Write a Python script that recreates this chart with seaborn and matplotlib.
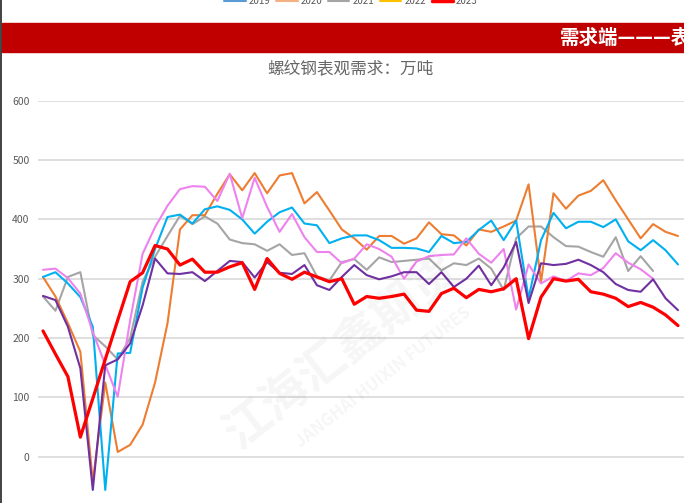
import numpy as np
import pandas as pd
import seaborn as sns
import matplotlib.pyplot as plt
from matplotlib.lines import Line2D

nan = np.nan
weeks = list(range(1, 53))

s_cyan = [303, 311, 292, 269, 219, -56, 174, 175, 285, 350, 404, 408, 393, 417, 422, 416, 400, 376, 396, 412,
          420, 393, 390, 360, 368, 373, 373, 365, 352, 352, 351, 345, 372, 360, 362, 382, 398, 365, 398, 267,
          365, 411, 385, 396, 396, 387, 400, 363, 348, 365, 348, 324]
s_orange = [303, 270, 225, 177, -42, 125, 8, 20, 54, 125, 225, 383, 407, 407, 443, 476, 449, 478, 444, 474,
            478, 427, 446, 415, 383, 368, 349, 372, 372, 359, 368, 395, 375, 373, 356, 383, 379, 388, 398, 459,
            295, 444, 418, 440, 448, 466, 432, 400, 368, 392, 379, 372]
s_gray = [270, 246, 303, 311, 205, 186, 164, 200, 295, 337, 372, 406, 392, 405, 393, 366, 360, 358, 347, 358,
          340, 343, 304, 297, 328, 333, 315, 336, 328, 330, 332, 334, 314, 326, 323, 334, 317, 281, 368, 388,
          388, 370, 355, 354, 345, 337, 370, 313, 338, 313, nan, nan]
s_purple = [271, 264, 219, 149, -56, 154, 164, 191, 255, 334, 309, 308, 311, 296, 313, 330, 328, 302, 328, 310,
            308, 323, 289, 281, 303, 323, 306, 299, 304, 311, 311, 291, 311, 286, 300, 322, 289, 319, 362, 259,
            326, 323, 325, 332, 323, 311, 291, 281, 278, 299, 267, 247]
s_pink = [315, 317, 301, 275, 210, 155, 101, 230, 342, 387, 423, 451, 456, 455, 431, 477, 402, 470, 421, 379,
          409, 370, 345, 345, 326, 334, 358, 350, 337, 300, 329, 338, 340, 341, 368, 342, 327, 350, 248, 324,
          292, 304, 296, 309, 306, 318, 343, 327, 316, 300, nan, nan]
s_red = [212, 173, 135, 33, 98, 164, 230, 295, 310, 356, 350, 323, 333, 311, 311, 320, 327, 282, 334, 309,
         299, 311, 303, 295, 300, 257, 270, 267, 270, 274, 247, 245, 275, 284, 268, 282, 278, 283, 300, 199,
         269, 300, 296, 299, 278, 274, 267, 253, 260, 252, 239, 221]

legend_years = ['2019', '2020', '2021', '2022', '2023']
legend_colors = ['#5b9bd5', '#f4b183', '#a5a5a5', '#ffc000', '#ff0000']
yticks = [0, 100, 200, 300, 400, 500, 600]

sns.set_style('white')
plt.rcParams['font.family'] = ['Noto Sans CJK SC', 'DejaVu Sans']

fig = plt.figure(figsize=(6.84, 5.03), dpi=100)

# plot area
ax = fig.add_axes([38 / 684, 0, 646 / 684, (503 - 100.7) / 503])
ax.set_facecolor('none')

series = [(s_gray, '#a5a5a5', 1.5), (s_orange, '#ed7d31', 1.5), (s_cyan, '#00b0f0', 1.5),
          (s_pink, '#ee82ee', 1.5), (s_purple, '#7030a0', 1.5), (s_red, '#ff0000', 2.3)]
for vals, col, lw in series:
    df = pd.DataFrame({'week': weeks, 'value': vals})
    sns.lineplot(data=df, x='week', y='value', color=col, linewidth=lw, ax=ax)

ax.set_xlim(1 - 5 / 12.45, 52 + 6 / 12.45)
ax.set_ylim(-78, 600)
ax.set_yticks(yticks)
ax.set_xticks([])
ax.yaxis.grid(True, color='#d9d9d9', linewidth=1.2)
ax.set_axisbelow(True)
for sp in ax.spines.values():
    sp.set_visible(False)
ax.tick_params(axis='y', length=0, pad=6, labelsize=7.5, labelcolor='#595959')
ax.set_xlabel('')
ax.set_ylabel('')

# faint watermark
fig.text(0.5, 0.3, '江海汇鑫期货', fontsize=34, color='#000000', alpha=0.04,
         rotation=38, ha='center', va='center', fontweight='bold')
fig.text(0.56, 0.25, 'JANGHAI HUIXIN FUTURES', fontsize=12, color='#000000', alpha=0.04,
         rotation=38, ha='center', va='center', fontweight='bold')

# title
fig.text(350 / 684, 1 - 70 / 503, '螺纹钢表观需求：万吨', fontsize=12, color='#666666',
         ha='center', va='center')

# red banner from the slide above
fig.patches.append(plt.Rectangle((2 / 684, 1 - 52 / 503), 682 / 684, 29 / 503,
                                 transform=fig.transFigure, color='#c00000', zorder=0))
fig.text(560 / 684, 1 - 38 / 503, '需求端———表观需求', fontsize=14, color='white',
         fontweight='bold', ha='left', va='center')

# legend remnant at the top edge
handles = [Line2D([], [], color=c, linewidth=2.5 if y == '2023' else 1.5) for y, c in zip(legend_years, legend_colors)]
fig.legend(handles, legend_years, loc='center', bbox_to_anchor=(351 / 684, 1 - 1 / 503), ncol=5,
           frameon=False, fontsize=7, labelcolor='#595959', handlelength=2.2, columnspacing=0.6,
           handletextpad=0.3)

# left border
fig.add_artist(Line2D([0.7 / 684, 0.7 / 684], [0, 1], color='#222222', linewidth=1.2,
                      transform=fig.transFigure))

fig.savefig('out.png', dpi=100)
